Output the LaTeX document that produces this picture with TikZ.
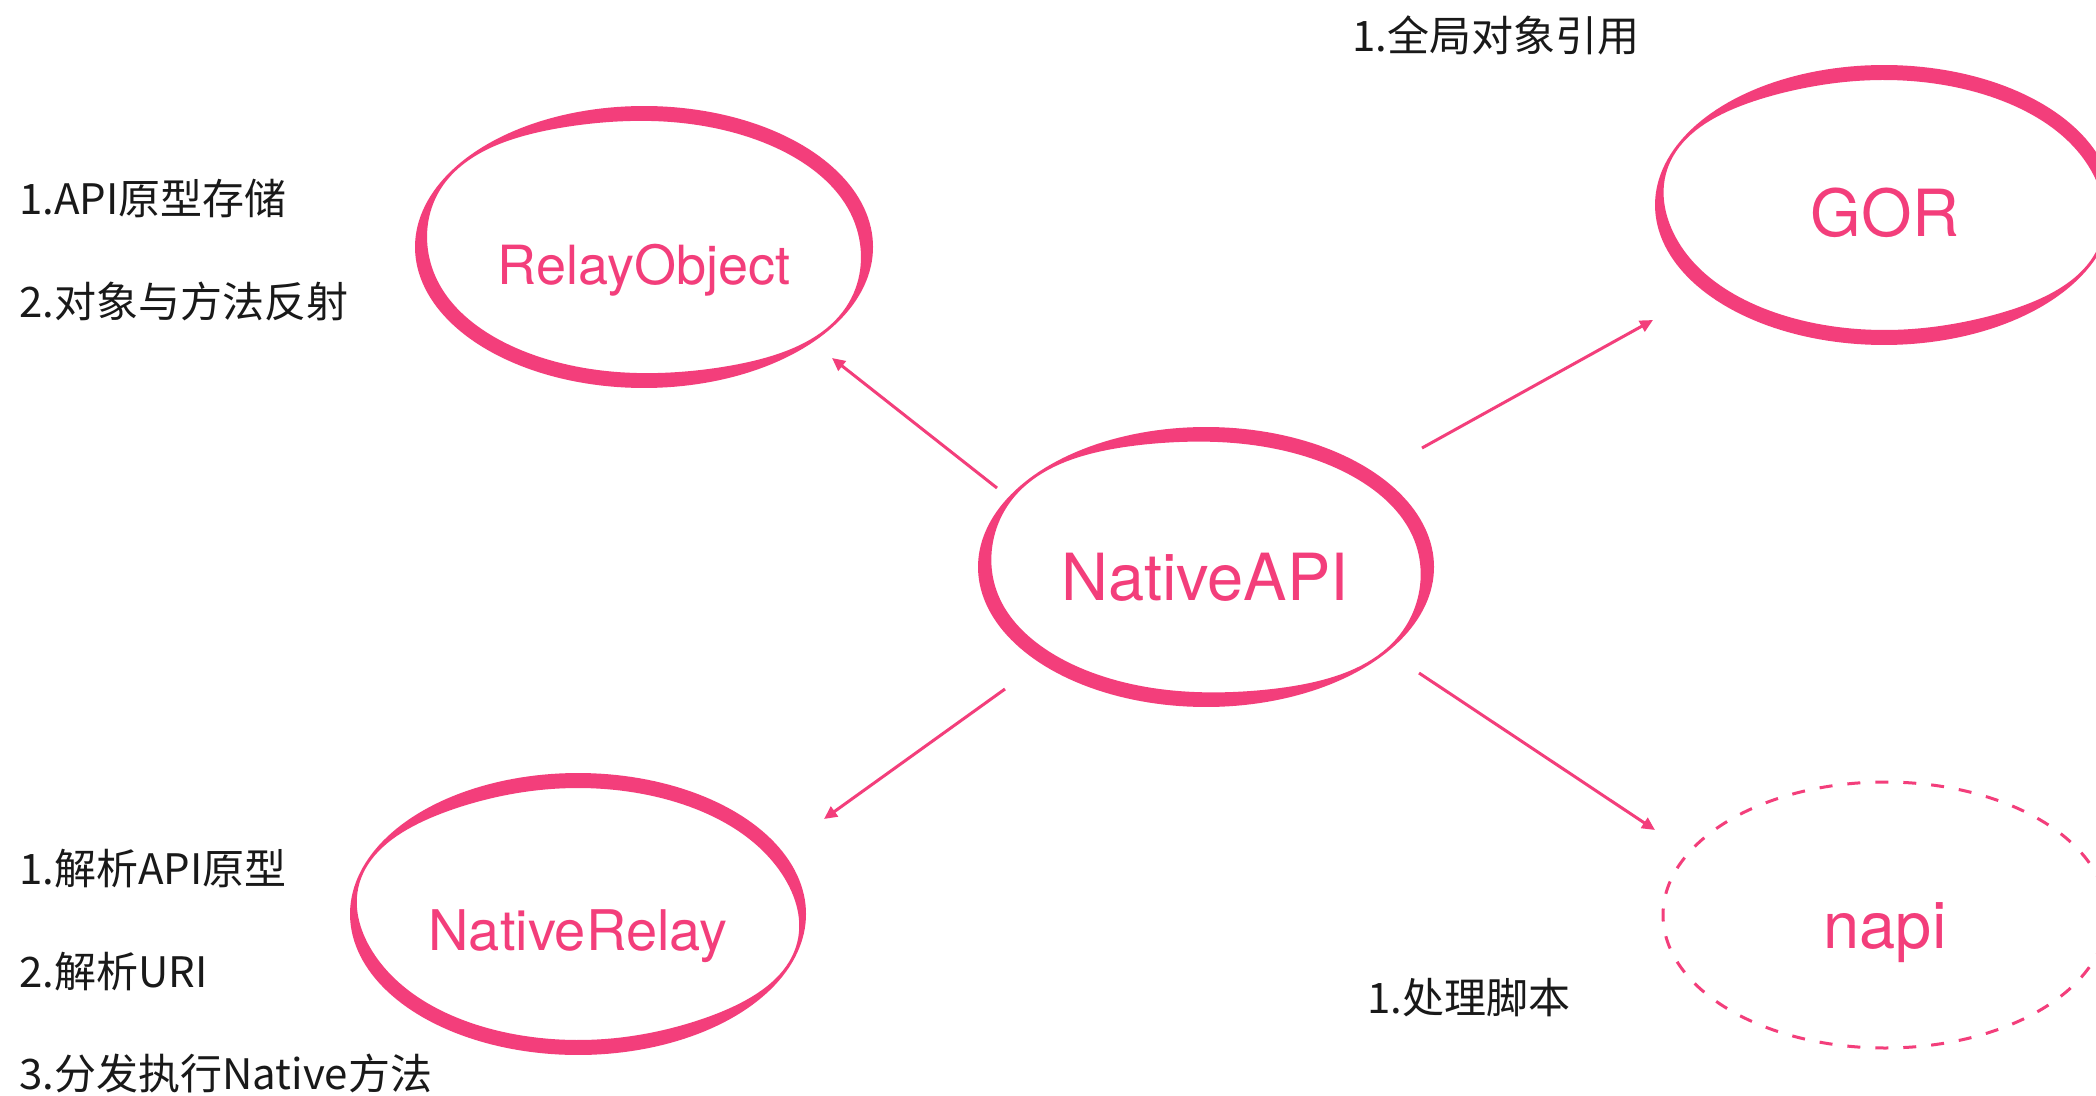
\documentclass[tikz,border=0pt]{standalone}
\usepackage{fontspec}
\setmainfont{TeX Gyre Heros}
\newfontfamily\cjk{Noto Sans CJK SC}
\usetikzlibrary{arrows.meta}
\definecolor{pinkc}{RGB}{243,62,123}
\definecolor{inkc}{RGB}{25,25,25}
% brush-like ellipse ring: centre x, centre y, x radius, y radius, angle of thinnest part
\newcommand\brushring[5]{%
  \fill[pinkc, even odd rule]
    plot[domain=0:360,samples=180,variable=\t]
      ({#1+#3*cos(\t)},{#2-#4*sin(\t)}) -- cycle
    plot[domain=0:360,samples=180,variable=\t]
      ({#1+(#3-3-12*(1-pow(abs(cos(\t-#5)),8)))*cos(\t)},
       {#2-(#4-3-12*(1-pow(abs(cos(\t-#5)),8)))*sin(\t)}) -- cycle;}
\tikzset{
  bigl/.style={text=pinkc, font=\fontsize{32.5pt}{36pt}\selectfont, inner sep=0pt, anchor=base},
  midl/.style={text=pinkc, font=\fontsize{27pt}{30pt}\selectfont, inner sep=0pt, anchor=base},
  note/.style={text=inkc, font=\cjk\fontsize{21pt}{24pt}\selectfont, inner sep=0pt, anchor=west},
  conn/.style={draw=pinkc, line width=1.5pt, -{Triangle[length=6.5pt,width=6pt]}},
  dashring/.style={draw=pinkc, line width=1.5pt, dash pattern=on 6.5pt off 7.5pt},
}
\begin{document}
\begin{tikzpicture}[x=0.5pt,y=-0.5pt]
\useasboundingbox (0,0) rectangle (2096,1096);
\fill[white] (0,0) rectangle (2096,1096);
\clip (0,0) rectangle (2096,1096);

% rings
\brushring{644}{247}{229}{141}{145}
\brushring{1206}{567}{228}{140}{140}
\brushring{1884}{205}{229}{140}{155}
\brushring{578}{914}{228}{141}{160}
\draw[dashring] (1885,915) ellipse [x radius=222, y radius=133];

% ring labels
\node[midl] (relay) at (644,285) {RelayObject};
\node[bigl] (api) at (1205,600) {NativeAPI};
\node[bigl] (gor) at (1885,237) {GOR};
\node[midl, font=\fontsize{28pt}{30pt}\selectfont] (nrelay) at (578,950) {NativeRelay};
\node[bigl] (napi) at (1885,948) {napi};

% notes
\node[note] (n1) at (1352,35) {1.全局对象引用};
\node[note] (n2) at (19,198) {1.API原型存储};
\node[note] (n3) at (19,301) {2.对象与方法反射};
\node[note] (n4) at (19,869) {1.解析API原型};
\node[note] (n5) at (19,972) {2.解析URI};
\node[note] (n6) at (19,1073) {3.分发执行Native方法};
\node[note] (n7) at (1367,998) {1.处理脚本};

% connector ends
\coordinate (s1) at (997,488);  \coordinate (t1) at (832,358);
\coordinate (s2) at (1422,448); \coordinate (t2) at (1653,320);
\coordinate (s3) at (1005,689); \coordinate (t3) at (824,819);
\coordinate (s4) at (1419,673); \coordinate (t4) at (1655,830);

\draw[conn] (s1) -- (t1);
\draw[conn] (s2) -- (t2);
\draw[conn] (s3) -- (t3);
\draw[conn] (s4) -- (t4);
\end{tikzpicture}
\end{document}
